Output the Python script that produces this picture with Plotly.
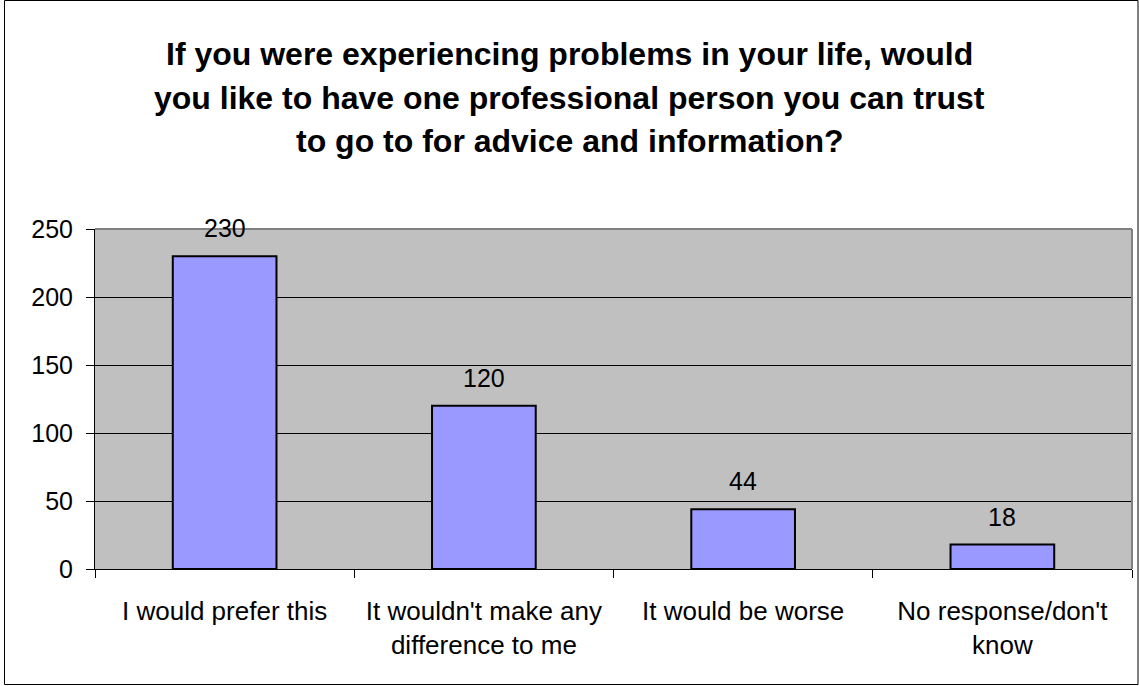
import plotly.graph_objects as go

categories = ["I would prefer this", "It wouldn't make any<br>difference to me", "It would be worse", "No response/don't<br>know"]
values = [230, 120, 44, 18]
y_ticks = [0, 50, 100, 150, 200, 250]
title_lines = [
    "If you were experiencing problems in your life, would",
    "you like to have one professional person you can trust",
    "to go to for advice and information?",
]

W, H = 1139, 686
ML, MR, MT, MB = 95, 7, 229, 117
PW, PH = W - ML - MR, H - MT - MB

def px_x(p):
    return (p - ML) / PW

def px_y(p):
    return (H - MB - p) / PH

fig = go.Figure()
fig.add_trace(go.Bar(
    x=categories, y=values,
    marker=dict(color="#9999FF", line=dict(color="black", width=2)),
    width=0.4,
))

annotations = []
for c, v in zip(categories, values):
    annotations.append(dict(x=c, y=v, text=str(v), showarrow=False, yshift=28,
                            yanchor="middle", font=dict(size=25, color="black",
                            family="Liberation Sans, Arial")))
title_y = [54, 98, 141]
for t, yp in zip(title_lines, title_y):
    annotations.append(dict(x=px_x(569.5), xref="paper", xanchor="center", y=px_y(yp), yref="paper",
                            yanchor="middle", text="<b>" + t + "</b>", showarrow=False,
                            font=dict(size=32, color="black", family="Liberation Sans, Arial")))

shapes = [
    dict(type="line", xref="paper", yref="paper", x0=0, x1=1, y0=1, y1=1,
         line=dict(color="#808080", width=2)),
    dict(type="line", xref="paper", yref="paper", x0=1, x1=1, y0=0, y1=1,
         line=dict(color="#808080", width=2)),
    dict(type="rect", xref="paper", yref="paper", x0=px_x(4.5), x1=px_x(1138), y0=px_y(684.5), y1=px_y(0.5),
         line=dict(color="black", width=1)),
]

fig.update_layout(
    width=W, height=H,
    margin=dict(l=ML, r=MR, t=MT, b=MB, autoexpand=False),
    paper_bgcolor="white", plot_bgcolor="#C0C0C0",
    showlegend=False,
    font=dict(family="Liberation Sans, Arial", size=25, color="black"),
    annotations=annotations, shapes=shapes,
    xaxis=dict(showline=True, linecolor="black", linewidth=1, ticks="outside", ticklen=8,
               tickcolor="black", tickson="boundaries", showgrid=False,
               tickfont=dict(size=26), ticklabelstandoff=19),
    yaxis=dict(range=[0, 250], tickvals=y_ticks, showline=True, linecolor="black", linewidth=1,
               ticks="outside", ticklen=8, tickcolor="black", showgrid=True, gridcolor="black",
               gridwidth=1, zeroline=False, tickfont=dict(size=25), ticklabelstandoff=8),
)

fig.write_html("out.html", config={"displayModeBar": False},
               post_script="document.body.style.margin='0';")
